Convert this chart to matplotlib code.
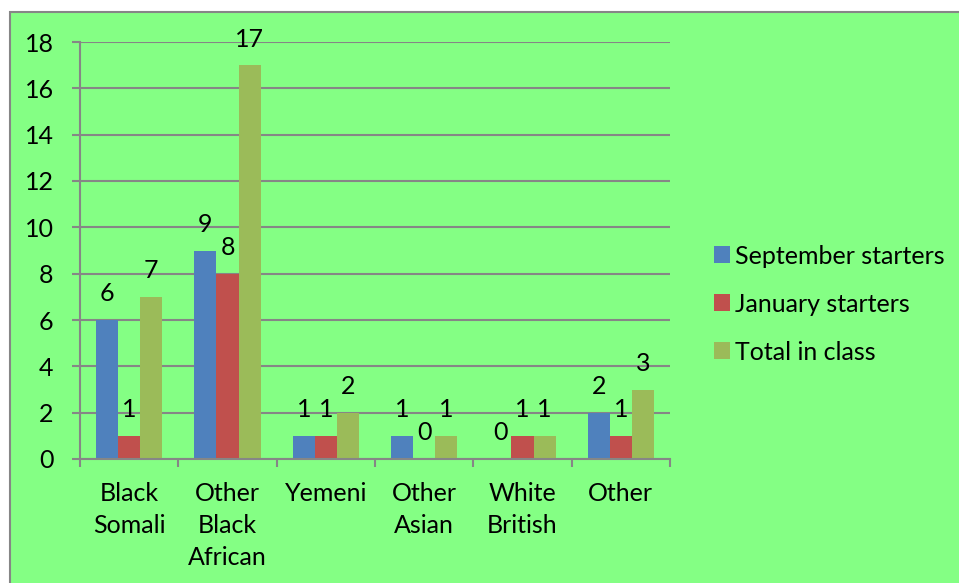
import matplotlib
matplotlib.use('Agg')
import matplotlib.pyplot as plt
from matplotlib.patches import Rectangle
import numpy as np

plt.rcParams['font.family'] = ['Lato', 'DejaVu Sans']

categories = ["Black\nSomali", "Other\nBlack\nAfrican", "Yemeni", "Other\nAsian", "White\nBritish", "Other"]
september = [6, 9, 1, 1, 0, 2]
january = [1, 8, 1, 0, 1, 1]
total = [7, 17, 2, 1, 1, 3]
series_names = ["September starters", "January starters", "Total in class"]
colors = ["#4F81BD", "#C0504D", "#9BBB59"]
grey = "#868686"
bg = "#84FF84"

fig = plt.figure(figsize=(9.59, 5.83), dpi=100)
fig.patch.set_facecolor("white")
# chart area box
fig.patches.append(Rectangle((10/959, -0.01), 1.0, (583-12)/583 + 0.01, transform=fig.transFigure,
                             facecolor=bg, edgecolor=grey, linewidth=1.5, zorder=-5))

ax = fig.add_axes([80/959, (583-459)/583, 590/959, 417/583])
ax.set_zorder(2)
ax.set_facecolor("none")

x = np.arange(len(categories))
w = 0.225
for i, (vals, name, c) in enumerate(zip([september, january, total], series_names, colors)):
    pos = x + (i - 1) * w
    ax.bar(pos, vals, width=w, color=c, label=name, zorder=3)
    for px, v in zip(pos, vals):
        ax.annotate(str(v), (px, v), xytext=(0, 10.5), textcoords="offset points",
                    ha="center", va="bottom", fontsize=18, zorder=4)

ax.set_xlim(-0.5, len(categories) - 0.5)
ax.set_ylim(0, 18)
ax.set_yticks(range(0, 19, 2))
ax.grid(axis="y", color=grey, linewidth=1.5, zorder=1)
ax.tick_params(axis="y", length=6, width=1.5, color=grey, pad=13, labelsize=18)

ax.set_xticks(np.arange(-0.5, len(categories), 1))
ax.set_xticklabels([])
ax.set_xticks(x, minor=True)
ax.set_xticklabels(categories, minor=True, fontsize=18, linespacing=1.48, va="top")
ax.tick_params(axis="x", which="major", length=6, width=1.5, color=grey)
ax.tick_params(axis="x", which="minor", length=0, pad=16.5)

for s in ["top", "right"]:
    ax.spines[s].set_visible(False)
for s in ["left", "bottom"]:
    ax.spines[s].set_color(grey)
    ax.spines[s].set_linewidth(1.5)
ax.spines["bottom"].set_zorder(5)

ax.legend(loc="center left", bbox_to_anchor=(714/959, (583-304)/583), bbox_transform=fig.transFigure,
          frameon=False, fontsize=18, handlelength=0.65, handleheight=0.65, handletextpad=0.2,
          labelspacing=1.0, borderpad=0, borderaxespad=0)

fig.savefig("out.png", dpi=100, facecolor=fig.get_facecolor())
